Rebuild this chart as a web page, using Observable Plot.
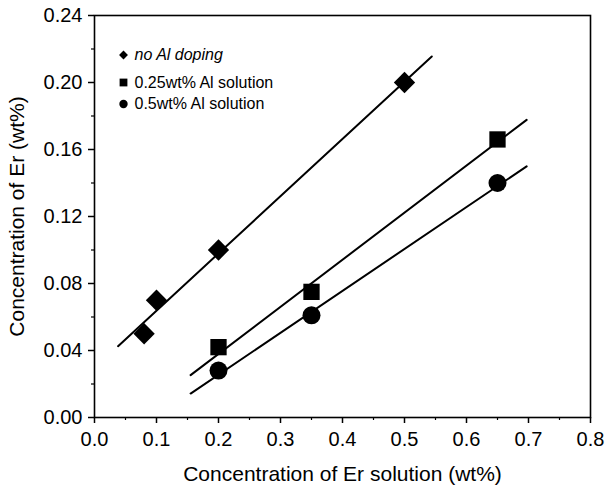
<!DOCTYPE html>
<html>
<head>
<meta charset="utf-8">
<script src="https://cdn.jsdelivr.net/npm/d3@7"></script>
<script src="https://cdn.jsdelivr.net/npm/@observablehq/plot@0.6"></script>
<style>
  html, body { margin: 0; padding: 0; background: #fff; }
  #chart svg { display: block; }
</style>
</head>
<body>
<div id="chart"></div>
<script>
// Series labels
const seriesNames = ["no Al doping", "0.25wt% Al solution", "0.5wt% Al solution"];
const seriesSymbols = ["diamond2", "square", "circle"];

// Measured points (x = Er solution wt%, y = Er wt%)
const noAlX = [0.08, 0.10, 0.20, 0.50];
const noAlY = [0.050, 0.070, 0.100, 0.200];
const al025X = [0.20, 0.35, 0.65];
const al025Y = [0.042, 0.075, 0.166];
const al05X = [0.20, 0.35, 0.65];
const al05Y = [0.028, 0.061, 0.140];

// Linear fit line endpoints
const fitNoAlX = [0.038, 0.544];
const fitNoAlY = [0.0426, 0.2155];
const fit025X = [0.155, 0.697];
const fit025Y = [0.0253, 0.1777];
const fit05X = [0.155, 0.697];
const fit05Y = [0.0143, 0.1499];

// Axis ticks
const xTicks = [0, 0.1, 0.2, 0.3, 0.4, 0.5, 0.6, 0.7, 0.8];
const xMinor = [0.05, 0.15, 0.25, 0.35, 0.45, 0.55, 0.65, 0.75];
const yTicks = [0, 0.04, 0.08, 0.12, 0.16, 0.20, 0.24];
const yMinor = [0.02, 0.06, 0.10, 0.14, 0.18, 0.22];

const xTitle = "Concentration of Er solution (wt%)";
const yTitle = "Concentration of Er (wt%)";

const toPts = (xs, ys, s) => xs.map((x, i) => ({x, y: ys[i], s}));
const points = [
  ...toPts(noAlX, noAlY, 0),
  ...toPts(al025X, al025Y, 1),
  ...toPts(al05X, al05Y, 2)
];
const fits = [
  ...toPts(fitNoAlX, fitNoAlY, 0),
  ...toPts(fit025X, fit025Y, 1),
  ...toPts(fit05X, fit05Y, 2)
];
const symR = [9.6, 9.2, 9];
const legR = [4, 4.4, 4.2];
const legDy = [39.5, 67, 88.5];
const legend = seriesNames.map((name, i) => ({name, i}));

const font = "'Liberation Sans', Arial, sans-serif";

const chart = Plot.plot({
  width: 606,
  height: 488,
  marginLeft: 94,
  marginRight: 16,
  marginTop: 15,
  marginBottom: 71,
  style: {fontFamily: font, fontSize: "20px", color: "#000", background: "#fff"},
  x: {domain: [0, 0.8]},
  y: {domain: [0, 0.24]},
  r: {type: "identity"},
  marks: [
    Plot.axisX({ticks: xTicks, tickFormat: d3.format(".1f"), tickSize: 6, tickPadding: 8, label: null, fontSize: 20, strokeWidth: 1.5}),
    Plot.axisX({ticks: xMinor, text: null, tickSize: 3, label: null, strokeWidth: 1.2}),
    Plot.axisY({ticks: yTicks, tickFormat: d3.format(".2f"), tickSize: 6, tickPadding: 6, label: null, fontSize: 20, strokeWidth: 1.5}),
    Plot.axisY({ticks: yMinor, text: null, tickSize: 3, label: null, strokeWidth: 1.2}),
    Plot.frame({stroke: "#000", strokeWidth: 1.6}),
    Plot.line(fits, {x: "x", y: "y", z: "s", stroke: "#000", strokeWidth: 2}),
    Plot.dot(points, {x: "x", y: "y", symbol: d => seriesSymbols[d.s], r: d => symR[d.s], fill: "#000", stroke: "none"}),
    ...legend.map(d => Plot.dot([d], {frameAnchor: "top-left", dx: 29, dy: legDy[d.i], symbol: seriesSymbols[d.i], r: legR[d.i], fill: "#000", stroke: "none"})),
    ...legend.map(d => Plot.text([d], {frameAnchor: "top-left", dx: 40, dy: legDy[d.i], text: "name", textAnchor: "start", lineAnchor: "middle", fontSize: 16, fontStyle: d.i === 0 ? "italic" : "normal"})),
    Plot.text([xTitle], {frameAnchor: "bottom", dy: 57, text: d => d, textAnchor: "middle", lineAnchor: "middle", fontSize: 21}),
    Plot.text([yTitle], {frameAnchor: "left", dx: -77, rotate: -90, text: d => d, textAnchor: "middle", lineAnchor: "middle", fontSize: 21})
  ]
});
document.getElementById("chart").appendChild(chart);
</script>
</body>
</html>
